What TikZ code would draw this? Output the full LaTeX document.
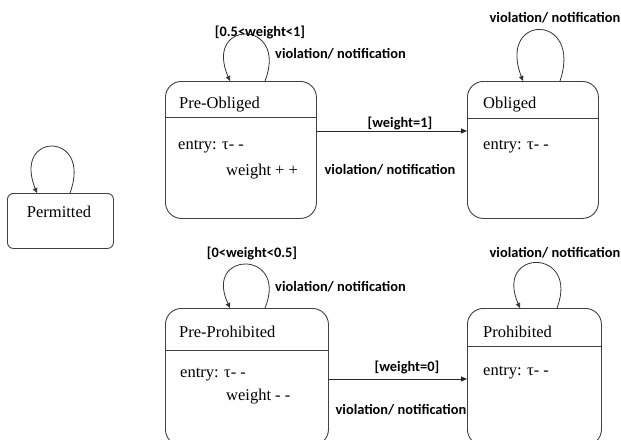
\documentclass[tikz,border=0pt]{standalone}
\usepackage{fontspec}
\setmainfont{Liberation Serif}
\newfontfamily\labfont{Carlito}
\usetikzlibrary{arrows.meta,calc}
\begin{document}
\begin{tikzpicture}[x=1pt,y=-1pt,
  statebox/.style={draw=black!75,line width=0.9pt,rounded corners=16pt,anchor=north west,inner sep=0pt},
  smallbox/.style={draw=black!75,line width=0.9pt,rounded corners=6pt,anchor=north west,inner sep=0pt},
  divider/.style={draw=black!75,line width=0.9pt},
  loopline/.style={draw=black!80,line width=0.8pt,-{Triangle[length=5pt,width=4.5pt]}},
  trans/.style={draw=black!85,line width=0.9pt,-{Triangle[length=6pt,width=5pt]}},
  lab/.style={font=\labfont\bfseries\fontsize{14.4}{16}\selectfont,inner sep=0pt},
  sname/.style={font=\fontsize{16.5}{18}\selectfont,inner sep=0pt,anchor=west},
  body/.style={font=\fontsize{16.5}{18}\selectfont,inner sep=0pt,anchor=west}]
\useasboundingbox (0,0) rectangle (621,439);
\clip (0,0) rectangle (621,439);
% boxes
\node[statebox,minimum width=151pt,minimum height=137pt] (PO) at (165,81) {};
\node[statebox,minimum width=131pt,minimum height=137pt] (OB) at (467,81) {};
\node[smallbox,minimum width=106pt,minimum height=55pt] (PM) at (7,193) {};
\node[statebox,minimum width=163pt,minimum height=137pt] (PP) at (165,308) {};
\node[statebox,minimum width=134pt,minimum height=137pt] (PR) at (467,308) {};
% dividers
\draw[divider] ($(PO.north west)+(0,36)$) -- ($(PO.north east)+(0,36)$);
\draw[divider] ($(OB.north west)+(0,37)$) -- ($(OB.north east)+(0,37)$);
\draw[divider] ($(PP.north west)+(0,42)$) -- ($(PP.north east)+(0,42)$);
\draw[divider] ($(PR.north west)+(0,38)$) -- ($(PR.north east)+(0,38)$);
% state names
\node[sname] (tPO) at (179,105) {Pre-Obliged};
\node[sname] (tOB) at (483,105) {Obliged};
\node[font=\fontsize{16.5}{18}\selectfont,inner sep=0pt] (tPM) at (59,212) {Permitted};
\node[sname] (tPP) at (179,332) {Pre-Prohibited};
\node[sname] (tPR) at (483,332) {Prohibited};
% bodies
\node[body] (ePO) at (178,147) {entry: τ- -};
\node[body] (wPO) at (226,172) {weight + +};
\node[body] (eOB) at (483,147) {entry: τ- -};
\node[body] (ePP) at (180,375) {entry: τ- -};
\node[body] (wPP) at (226,397) {weight - -};
\node[body] (ePR) at (483,373) {entry: τ- -};
% self loops
\draw[loopline] ($(PO.north west)+(100,0)$) .. controls ($(PO.north west)+(124,-62)$) and ($(PO.north west)+(38,-62)$) .. ($(PO.north west)+(65,0)$);
\draw[loopline] ($(OB.north west)+(93,0)$) .. controls ($(OB.north west)+(116,-68)$) and ($(OB.north west)+(30,-68)$) .. ($(OB.north west)+(56,0)$);
\draw[loopline] ($(PM.north west)+(63,0)$) .. controls ($(PM.north west)+(86,-62)$) and ($(PM.north west)+(5,-62)$) .. ($(PM.north west)+(30,0)$);
\draw[loopline] ($(PP.north west)+(100,0)$) .. controls ($(PP.north west)+(124,-58)$) and ($(PP.north west)+(38,-58)$) .. ($(PP.north west)+(65,0)$);
\draw[loopline] ($(PR.north west)+(90,0)$) .. controls ($(PR.north west)+(113,-60)$) and ($(PR.north west)+(27,-60)$) .. ($(PR.north west)+(53,0)$);
% transitions
\draw[trans] ($(PO.north east)+(0,50)$) -- ($(OB.north west)+(0,50)$);
\draw[trans] ($(PP.north east)+(0,71)$) -- ($(PR.north west)+(0,71)$);
% labels
\node[lab] (l1) at (260,32) {[0.5<weight<1]};
\node[lab,anchor=west] (l2) at (275,54) {violation/ notification};
\node[lab] (l3) at (400,123) {[weight=1]};
\node[lab] (l4) at (390,170) {violation/ notification};
\node[lab] (l5) at (555,18) {violation/ notification};
\node[lab] (l6) at (252,253) {[0<weight<0.5]};
\node[lab,anchor=west] (l7) at (275,287) {violation/ notification};
\node[lab] (l8) at (407,367) {[weight=0]};
\node[lab] (l9) at (401,410) {violation/ notification};
\node[lab] (l10) at (555,253) {violation/ notification};
\end{tikzpicture}
\end{document}
